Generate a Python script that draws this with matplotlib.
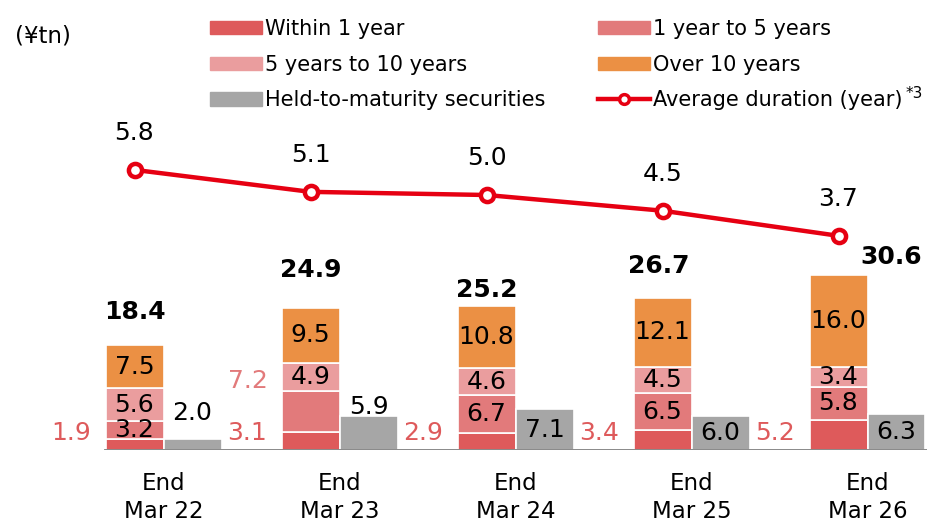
import numpy as np
import matplotlib.pyplot as plt
from matplotlib.patches import Patch
from matplotlib.lines import Line2D

plt.rcParams['font.family'] = ['DejaVu Sans']

# data (¥tn, duration in years)
periods = ["End\nMar 22", "End\nMar 23", "End\nMar 24", "End\nMar 25", "End\nMar 26"]
within_1y = [1.9, 3.1, 2.9, 3.4, 5.2]
y1_to_5 = [3.2, 7.2, 6.7, 6.5, 5.8]
y5_to_10 = [5.6, 4.9, 4.6, 4.5, 3.4]
over_10 = [7.5, 9.5, 10.8, 12.1, 16.0]
htm = [2.0, 5.9, 7.1, 6.0, 6.3]
totals = [18.4, 24.9, 25.2, 26.7, 30.6]
duration = [5.8, 5.1, 5.0, 4.5, 3.7]

# label placement tweaks (points)
y1_to_5_inside = [True, False, True, True, True]
total_offsets = [(0, 24), (0, 27), (0, 11.5), (-3, 23), (38, 13)]
htm_above = [18, 6.5, None, None, None]

c_within = "#DE5A5B"
c_1to5 = "#E27A7B"
c_5to10 = "#EA9D9E"
c_over = "#EB9044"
c_htm = "#A6A6A6"
c_line = "#E60012"

fig = plt.figure(figsize=(9.28, 5.24), dpi=100)
ax = fig.add_axes([0, 74 / 524, 1, 340 / 524])
ax2 = ax.twinx()

x = np.arange(len(periods))
bw = 58 / 176
xs = x - bw / 2
xh = x + bw / 2

b0 = np.zeros(len(x))
segs = [(within_1y, c_within), (y1_to_5, c_1to5), (y5_to_10, c_5to10), (over_10, c_over)]
bottoms = []
for vals, col in segs:
    ax.bar(xs, vals, bw, bottom=b0, color=col, edgecolor="white", linewidth=1.2, zorder=2)
    bottoms.append(b0.copy())
    b0 = b0 + np.array(vals)
tops = b0
ax.bar(xh, htm, bw, color=c_htm, edgecolor="white", linewidth=1.2, zorder=2)

ax.axhline(0, xmin=105 / 928, xmax=1, color="#7F7F7F", lw=2, zorder=3)

fs = 18
for i in range(len(x)):
    # within 1 year label, outside on the left
    ax.text(x[i] - 0.525, 3.0, f"{within_1y[i]:.1f}", color=c_within, fontsize=fs,
            ha="center", va="center")
    if y1_to_5_inside[i]:
        ax.text(xs[i], bottoms[1][i] + y1_to_5[i] / 2, f"{y1_to_5[i]:.1f}", fontsize=fs,
                ha="center", va="center", zorder=4)
    else:
        ax.text(x[i] - 0.52, 12.0, f"{y1_to_5[i]:.1f}", color=c_1to5, fontsize=fs,
                ha="center", va="center")
    ax.text(xs[i], bottoms[2][i] + y5_to_10[i] / 2, f"{y5_to_10[i]:.1f}", fontsize=fs,
            ha="center", va="center", zorder=4)
    ax.text(xs[i], bottoms[3][i] + over_10[i] / 2, f"{over_10[i]:.1f}", fontsize=fs,
            ha="center", va="center", zorder=4)
    if htm_above[i] is not None:
        ax.annotate(f"{htm[i]:.1f}", (xh[i], htm[i]), xytext=(0, htm_above[i]),
                    textcoords="offset points", fontsize=fs, ha="center", va="center")
    else:
        ax.text(xh[i], htm[i] / 2, f"{htm[i]:.1f}", fontsize=fs, ha="center", va="center", zorder=4)
    ax.annotate(f"{totals[i]:.1f}", (xs[i], tops[i]), xytext=total_offsets[i],
                textcoords="offset points", fontsize=fs, fontweight="bold",
                ha="center", va="center")

ax2.plot(xs, duration, color=c_line, lw=3.2, marker="o", ms=9.5, mew=3.2,
         mfc="white", mec=c_line, zorder=5)
for i in range(len(x)):
    ax2.annotate(f"{duration[i]:.1f}", (xs[i], duration[i]), xytext=(0, 26.5),
                 textcoords="offset points", fontsize=fs, ha="center", va="center")

ax.set_xlim(-163.5 / 176, (928 - 163.5) / 176)
ax.set_ylim(0, 340 / 5.75)
ax2.set_ylim(-98 / 31.4, (340 - 98) / 31.4)

ax.set_xticks(x, periods, fontsize=16.5, linespacing=1.25)
ax.tick_params(axis="x", length=0, pad=16)
ax.set_yticks([])
ax2.set_yticks([])
for a in (ax, ax2):
    for s in a.spines.values():
        s.set_visible(False)

fig.text(15 / 928, 1 - 36 / 524, "(¥tn)", fontsize=16.5, ha="left", va="center")

leg_kw = dict(loc="upper left", frameon=False, fontsize=15, handlelength=2.5,
              handleheight=0.6, handletextpad=0.15, labelspacing=0.75, borderpad=0,
              borderaxespad=0)
h1 = [Patch(color=c_within), Patch(color=c_5to10), Patch(color=c_htm)]
l1 = ["Within 1 year", "5 years to 10 years", "Held-to-maturity securities"]
h2 = [Patch(color=c_1to5), Patch(color=c_over),
      Line2D([], [], color=c_line, lw=3.2, marker="o", ms=7, mew=2.5, mfc="white", mec=c_line)]
l2 = ["1 year to 5 years", "Over 10 years", "Average duration (year)"]
fig.legend(h1, l1, bbox_to_anchor=(210 / 928, 1 - 19 / 524), **leg_kw)
fig.legend(h2, l2, bbox_to_anchor=(598 / 928, 1 - 19 / 524), **leg_kw)
fig.text(906 / 928, 1 - 93 / 524, "*3", fontsize=11, ha="left", va="center")

fig.savefig("out.png", dpi=100)
